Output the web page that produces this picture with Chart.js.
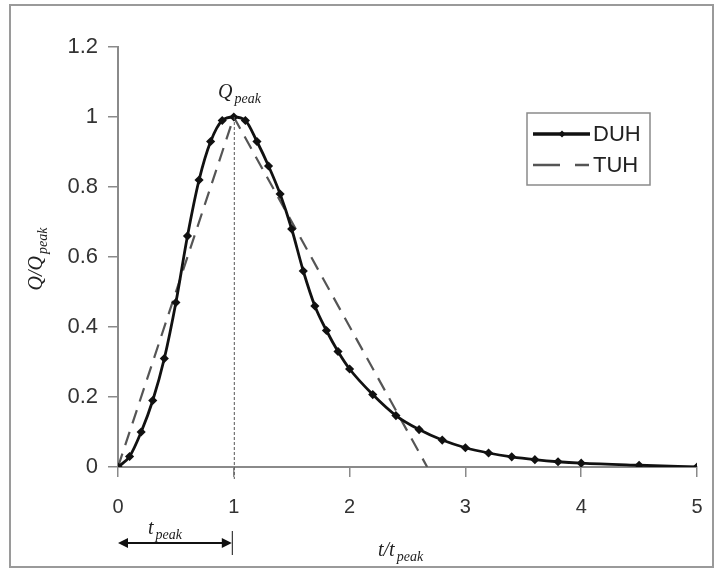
<!DOCTYPE html>
<html>
<head>
<meta charset="utf-8">
<script src="https://cdn.jsdelivr.net/npm/chart.js@4.4.1/dist/chart.umd.min.js"></script>
<style>
  html, body { margin: 0; padding: 0; background: #fff; }
  #wrap { width: 717px; height: 572px; }
</style>
</head>
<body>
<div id="wrap"><canvas id="chart" width="717" height="572"></canvas></div>
<script>
// Dimensionless unit hydrograph (t/tpeak vs Q/Qpeak)
const duhT = [0, 0.1, 0.2, 0.3, 0.4, 0.5, 0.6, 0.7, 0.8, 0.9, 1.0, 1.1, 1.2, 1.3, 1.4, 1.5, 1.6, 1.7, 1.8, 1.9, 2.0,
              2.2, 2.4, 2.6, 2.8, 3.0, 3.2, 3.4, 3.6, 3.8, 4.0, 4.5, 5.0];
const duhQ = [0, 0.03, 0.10, 0.19, 0.31, 0.47, 0.66, 0.82, 0.93, 0.99, 1.00, 0.99, 0.93, 0.86, 0.78, 0.68, 0.56, 0.46, 0.39, 0.33, 0.28,
              0.207, 0.147, 0.107, 0.077, 0.055, 0.040, 0.029, 0.021, 0.015, 0.011, 0.005, 0];
// Triangular unit hydrograph
const tuhT = [0, 1, 2.67];
const tuhQ = [0, 1, 0];

const xTicks = [0, 1, 2, 3, 4, 5];
const yTicks = [0, 0.2, 0.4, 0.6, 0.8, 1, 1.2];

const toPoints = (xs, ys) => xs.map((x, i) => ({ x: x, y: ys[i] }));

const axisGrey = '#8a8a8a';
const sans = '"Liberation Sans", Arial, sans-serif';

// draw "Q" + subscript "peak" style labels
function subLabel(ctx, main, sub, x, y, size, align) {
  ctx.save();
  ctx.fillStyle = '#222';
  ctx.textBaseline = 'alphabetic';
  const mainFont = 'italic ' + size + 'px "Liberation Serif", serif';
  const subFont = 'italic ' + Math.round(size * 0.72) + 'px "Liberation Serif", serif';
  ctx.font = mainFont;
  const w1 = ctx.measureText(main).width;
  ctx.font = subFont;
  const w2 = ctx.measureText(sub).width;
  let x0 = x;
  if (align === 'center') x0 = x - (w1 + w2 + 2) / 2;
  ctx.font = mainFont;
  ctx.fillText(main, x0, y);
  ctx.font = subFont;
  ctx.fillText(sub, x0 + w1 + 2, y + size * 0.25);
  ctx.restore();
}

const extras = {
  id: 'extras',
  afterDraw(chart) {
    const ctx = chart.ctx;
    const xs = chart.scales.x, ys = chart.scales.y;
    const x0 = xs.getPixelForValue(0), x1 = xs.getPixelForValue(1);
    const y0 = ys.getPixelForValue(0), yTop = ys.getPixelForValue(1);

    // outer frame
    ctx.save();
    ctx.strokeStyle = '#9a9a9a';
    ctx.lineWidth = 2;
    ctx.strokeRect(10, 5, 703, 562);

    // dotted line at t = tpeak
    ctx.strokeStyle = '#555';
    ctx.lineWidth = 1;
    ctx.setLineDash([3, 2]);
    ctx.beginPath();
    ctx.moveTo(x1 + 0.5, yTop);
    ctx.lineTo(x1 + 0.5, y0 + 12);
    ctx.stroke();
    ctx.setLineDash([]);

    // tpeak arrow
    const ay = 543;
    ctx.strokeStyle = '#111';
    ctx.fillStyle = '#111';
    ctx.lineWidth = 2;
    ctx.beginPath();
    ctx.moveTo(x0 + 2, ay);
    ctx.lineTo(x1 - 4, ay);
    ctx.stroke();
    ctx.beginPath();
    ctx.moveTo(x0, ay); ctx.lineTo(x0 + 10, ay - 5); ctx.lineTo(x0 + 10, ay + 5); ctx.closePath();
    ctx.fill();
    ctx.beginPath();
    ctx.moveTo(x1 - 2, ay); ctx.lineTo(x1 - 12, ay - 5); ctx.lineTo(x1 - 12, ay + 5); ctx.closePath();
    ctx.fill();
    ctx.lineWidth = 1;
    ctx.beginPath();
    ctx.moveTo(x1 - 1.5, ay - 12);
    ctx.lineTo(x1 - 1.5, ay + 12);
    ctx.stroke();
    ctx.restore();

    subLabel(ctx, 't', 'peak', 148, 534, 20, 'left');
    subLabel(ctx, 'Q', 'peak', 218, 98, 20, 'left');
    subLabel(ctx, 't/t', 'peak', 378, 556, 20, 'left');

    // y axis title, rotated
    ctx.save();
    ctx.translate(42, 259);
    ctx.rotate(-Math.PI / 2);
    subLabel(ctx, 'Q/Q', 'peak', 0, 0, 20, 'center');
    ctx.restore();

    // legend
    const lx = 527, ly = 113, lw = 123, lh = 72;
    ctx.save();
    ctx.fillStyle = '#fff';
    ctx.fillRect(lx, ly, lw, lh);
    ctx.strokeStyle = '#8a8a8a';
    ctx.lineWidth = 1.5;
    ctx.strokeRect(lx, ly, lw, lh);
    const dsets = chart.data.datasets;
    const rows = [ly + 21, ly + 52];
    dsets.forEach((ds, i) => {
      const ry = rows[i];
      ctx.strokeStyle = ds.borderColor;
      ctx.lineWidth = ds.borderWidth + 0.5;
      ctx.beginPath();
      if (ds.borderDash) {
        ctx.moveTo(lx + 6, ry); ctx.lineTo(lx + 33, ry);
        ctx.moveTo(lx + 48, ry); ctx.lineTo(lx + 62, ry);
      } else {
        ctx.moveTo(lx + 6, ry); ctx.lineTo(lx + 63, ry);
      }
      ctx.stroke();
      if (ds.pointRadius > 0) {
        ctx.fillStyle = ds.borderColor;
        ctx.beginPath();
        ctx.moveTo(lx + 35, ry - 3.5); ctx.lineTo(lx + 38.5, ry);
        ctx.lineTo(lx + 35, ry + 3.5); ctx.lineTo(lx + 31.5, ry);
        ctx.closePath();
        ctx.fill();
      }
      ctx.fillStyle = '#222';
      ctx.font = '22px ' + sans;
      ctx.textBaseline = 'middle';
      ctx.fillText(ds.label, lx + 66, ry + 1);
    });
    ctx.restore();
  }
};

new Chart(document.getElementById('chart'), {
  type: 'line',
  data: {
    datasets: [
      {
        label: 'DUH',
        data: toPoints(duhT, duhQ),
        borderColor: '#111',
        backgroundColor: '#111',
        borderWidth: 2.8,
        pointStyle: 'rectRot',
        pointRadius: 2.6,
        pointHoverRadius: 2.6,
        cubicInterpolationMode: 'monotone',
        fill: false
      },
      {
        label: 'TUH',
        data: toPoints(tuhT, tuhQ),
        borderColor: '#555',
        backgroundColor: '#555',
        borderWidth: 2.2,
        borderDash: [14, 9],
        pointRadius: 0,
        tension: 0,
        fill: false
      }
    ]
  },
  options: {
    responsive: false,
    animation: false,
    layout: { padding: { left: 0, right: 20, top: 47, bottom: 0 } },
    plugins: {
      legend: { display: false },
      tooltip: { enabled: false }
    },
    scales: {
      x: {
        type: 'linear',
        min: 0, max: 5,
        afterBuildTicks: (axis) => { axis.ticks = xTicks.map(v => ({ value: v })); },
        afterFit: (axis) => { axis.height = 105; axis.paddingLeft = 0; axis.paddingRight = 0; },
        grid: { drawOnChartArea: false, drawTicks: true, tickLength: 10, color: axisGrey, lineWidth: 1.5 },
        border: { color: axisGrey, width: 2 },
        ticks: { color: '#333', font: { family: sans, size: 20 }, padding: 18, maxRotation: 0,
                 callback: (v) => String(v) }
      },
      y: {
        min: 0, max: 1.2,
        afterBuildTicks: (axis) => { axis.ticks = yTicks.map(v => ({ value: v })); },
        afterFit: (axis) => { axis.width = 118; axis.paddingTop = 0; axis.paddingBottom = 0; },
        grid: { drawOnChartArea: false, drawTicks: true, tickLength: 10, color: axisGrey, lineWidth: 1.5 },
        border: { color: axisGrey, width: 2 },
        ticks: { color: '#333', font: { family: sans, size: 22 }, padding: 10,
                 callback: (v) => String(v) }
      }
    }
  },
  plugins: [extras]
});
</script>
</body>
</html>
